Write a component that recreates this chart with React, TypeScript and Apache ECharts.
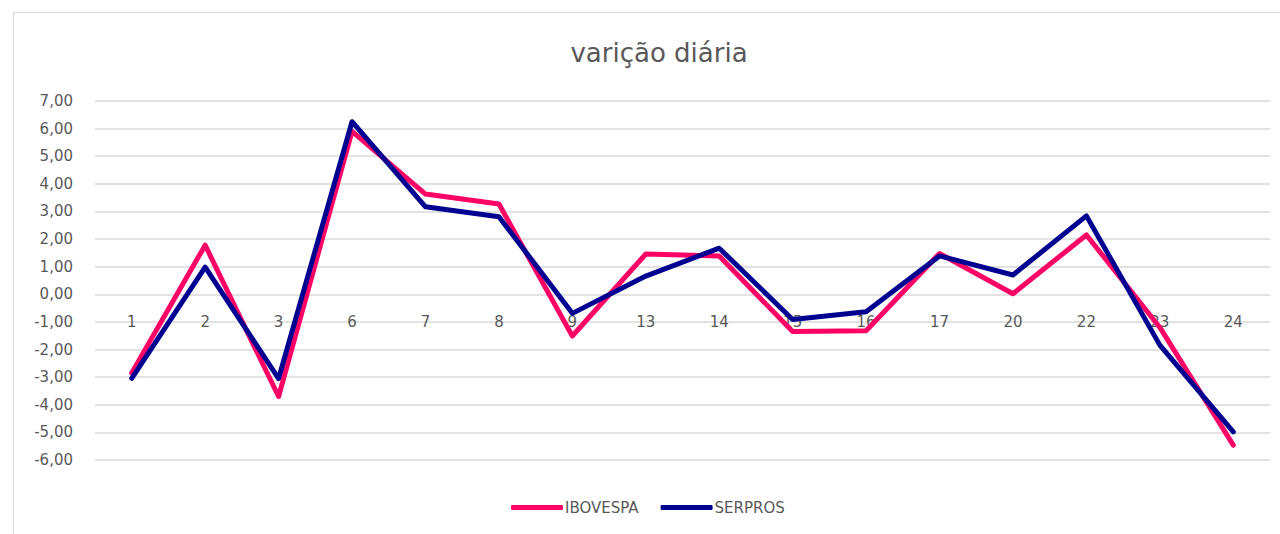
import React, { useEffect, useRef } from "react";
import * as echarts from "echarts";

const categories = ["1", "2", "3", "6", "7", "8", "9", "13", "14", "15", "16", "17", "20", "22", "23", "24"];
const ibovespa = [-2.85, 1.78, -3.7, 5.9, 3.63, 3.27, -1.51, 1.46, 1.39, -1.35, -1.32, 1.48, 0.02, 2.15, -1.2, -5.46];
const serpros = [-3.04, 0.98, -3.05, 6.25, 3.17, 2.81, -0.69, 0.66, 1.67, -0.91, -0.63, 1.39, 0.7, 2.84, -1.84, -4.98];
const seriesNames = ["IBOVESPA", "SERPROS"];
const colors = ["#FF0066", "#000090"];

const yMin = -6;
const yMax = 7;

export default function App() {
  const ref = useRef<HTMLDivElement>(null);
  useEffect(() => {
    if (!ref.current) return;
    const chart = echarts.init(ref.current, null, { renderer: "svg" });
    const font = "'DejaVu Sans', 'Noto Sans', sans-serif";
    const gridTop = 101;
    const gridBottom = 74;
    const plotH = 534 - gridTop - gridBottom;
    const zeroOffset = -(plotH * (0 - yMin)) / (yMax - yMin);
    chart.setOption({
      animation: false,
      backgroundColor: "#ffffff",
      title: {
        text: "varição diária",
        left: 654,
        textAlign: "center",
        top: 35,
        textStyle: { fontFamily: font, fontSize: 26, fontWeight: "normal", color: "#595959" },
      },
      graphic: [
        {
          type: "rect",
          shape: { x: 13.5, y: 12.5, width: 1300, height: 600 },
          style: { fill: "none", stroke: "#d9d9d9", lineWidth: 1 },
          silent: true,
        },
      ],
      legend: {
        bottom: 14,
        left: 506,
        itemWidth: 52,
        itemHeight: 5,
        itemGap: 22,
        icon: "roundRect",
        textStyle: { fontFamily: font, fontSize: 15, color: "#595959", padding: [0, 0, 0, -3] },
        data: seriesNames,
      },
      grid: { left: 95, right: 10, top: gridTop, bottom: gridBottom, containLabel: false },
      xAxis: {
        type: "category",
        data: categories,
        boundaryGap: true,
        position: "bottom",
        offset: zeroOffset,
        axisLine: { show: false, onZero: false },
        axisTick: { show: false },
        axisLabel: { color: "#595959", fontFamily: font, fontSize: 15, margin: 20 },
      },
      yAxis: {
        type: "value",
        min: yMin,
        max: yMax,
        interval: 1,
        axisLine: { show: false },
        axisTick: { show: false },
        splitLine: { lineStyle: { color: "#d9d9d9", width: 1.5 } },
        axisLabel: {
          color: "#595959",
          fontFamily: font,
          fontSize: 15,
          margin: 22,
          formatter: (v: number) => v.toFixed(2).replace(".", ","),
        },
      },
      series: [
        {
          name: seriesNames[0],
          type: "line",
          data: ibovespa,
          symbol: "none",
          lineStyle: { color: colors[0], width: 5, join: "round", cap: "round" },
          itemStyle: { color: colors[0] },
        },
        {
          name: seriesNames[1],
          type: "line",
          data: serpros,
          symbol: "none",
          lineStyle: { color: colors[1], width: 5, join: "round", cap: "round" },
          itemStyle: { color: colors[1] },
        },
      ],
    });
    return () => chart.dispose();
  }, []);
  return (
    <div
      ref={ref}
      style={{ position: "fixed", left: 0, top: 0, width: 1280, height: 534 }}
    />
  );
}
